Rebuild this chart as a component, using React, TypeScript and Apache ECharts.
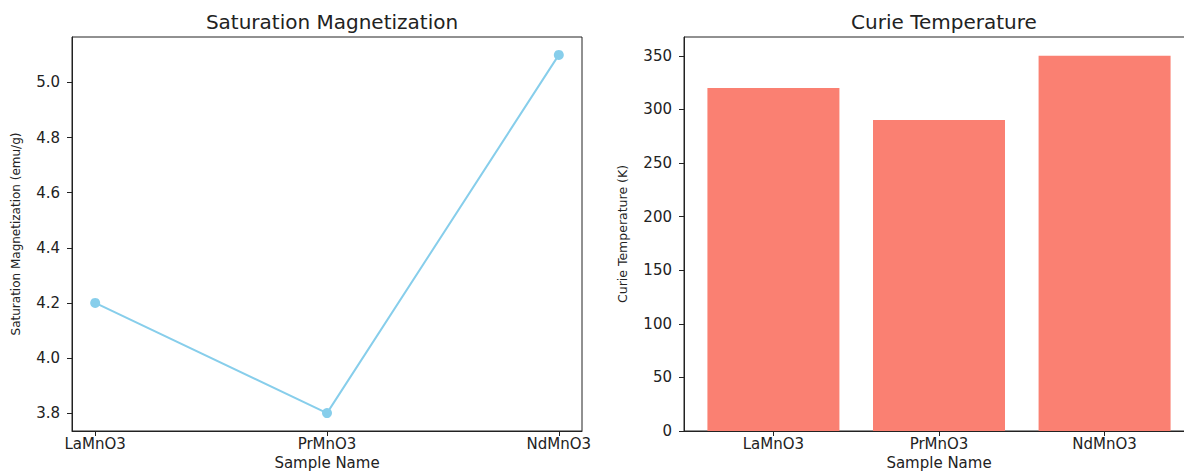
import React, { useEffect, useRef } from "react";
import * as echarts from "echarts";

const samples = ["LaMnO3", "PrMnO3", "NdMnO3"];
const saturationMagnetization = [4.2, 3.8, 5.1];
const curieTemperature = [320, 290, 350];
const magTicks = [3.8, 4.0, 4.2, 4.4, 4.6, 4.8, 5.0];
const tempTicks = [0, 50, 100, 150, 200, 250, 300, 350];
const catPositions = [0, 1, 2];

const FONT = "DejaVu Sans";
const TXT = "#222";

export default function App() {
  const ref = useRef<HTMLDivElement>(null);
  useEffect(() => {
    if (!ref.current) return;
    const chart = echarts.init(ref.current, null, { renderer: "svg" });
    const axisLine = { show: true, onZero: false, lineStyle: { color: "#222", width: 1 } };
    const axisTick = (vals: number[]) => ({
      show: true,
      inside: false,
      length: 5,
      lineStyle: { color: "#222", width: 1 },
      customValues: vals,
    });
    const labelBase = { color: TXT, fontFamily: FONT, fontSize: 15 };
    const titleStyle = { fontFamily: FONT, fontSize: 20, fontWeight: "normal", color: TXT };
    chart.setOption({
      animation: false,
      backgroundColor: "#fff",
      textStyle: { fontFamily: FONT },
      title: [
        { text: "Saturation Magnetization", left: 327, top: 7, textAlign: "center", textStyle: titleStyle },
        { text: "Curie Temperature", left: 939, top: 7, textAlign: "center", textStyle: titleStyle },
      ],
      grid: [
        { left: 72, top: 37, width: 510, height: 394, show: true, borderColor: "#222", borderWidth: 1, backgroundColor: "transparent", containLabel: false, outerBoundsMode: "none" },
        { left: 684, top: 37, width: 510, height: 394, show: true, borderColor: "#222", borderWidth: 1, backgroundColor: "transparent", containLabel: false, outerBoundsMode: "none" },
      ],
      xAxis: [0, 1].map((g) => ({
        type: "value",
        gridIndex: g,
        min: g === 0 ? -0.1 : -0.54,
        max: g === 0 ? 2.1 : 2.54,
        splitLine: { show: false },
        axisLine,
        axisTick: axisTick(catPositions),
        axisLabel: {
          ...labelBase,
          margin: 5,
          customValues: catPositions,
          formatter: (v: number) => samples[Math.round(v)] ?? "",
        },
        name: "Sample Name",
        nameLocation: "middle",
        nameGap: 24,
        nameTextStyle: { color: TXT, fontFamily: FONT, fontSize: 15 },
      })),
      yAxis: [
        {
          type: "value",
          gridIndex: 0,
          min: 3.735,
          max: 5.165,
          splitLine: { show: false },
          axisLine,
          axisTick: axisTick(magTicks),
          axisLabel: {
            ...labelBase,
            margin: 12,
            customValues: magTicks,
            formatter: (v: number) => v.toFixed(1),
          },
          name: "Saturation Magnetization (emu/g)",
          nameLocation: "middle",
          nameGap: 50,
          nameTextStyle: { color: TXT, fontFamily: FONT, fontSize: 12 },
        },
        {
          type: "value",
          gridIndex: 1,
          min: 0,
          max: 367.5,
          splitLine: { show: false },
          axisLine,
          axisTick: axisTick(tempTicks),
          axisLabel: {
            ...labelBase,
            margin: 12,
            customValues: tempTicks,
            formatter: (v: number) => String(v),
          },
          name: "Curie Temperature (K)",
          nameLocation: "middle",
          nameGap: 55,
          nameTextStyle: { color: TXT, fontFamily: FONT, fontSize: 12.5 },
        },
      ],
      series: [
        {
          type: "line",
          xAxisIndex: 0,
          yAxisIndex: 0,
          data: saturationMagnetization.map((v, i) => [catPositions[i], v]),
          lineStyle: { color: "#87CEEB", width: 2 },
          itemStyle: { color: "#87CEEB" },
          symbol: "circle",
          symbolSize: 10,
          showSymbol: true,
        },
        {
          type: "bar",
          xAxisIndex: 1,
          yAxisIndex: 1,
          data: curieTemperature.map((v, i) => [catPositions[i], v]),
          barWidth: 132,
          itemStyle: { color: "#FA8072" },
        },
      ],
    });
    return () => chart.dispose();
  }, []);
  return (
    <div
      ref={ref}
      style={{ position: "absolute", left: 0, top: 0, width: 1184, height: 472, background: "#fff" }}
    />
  );
}
